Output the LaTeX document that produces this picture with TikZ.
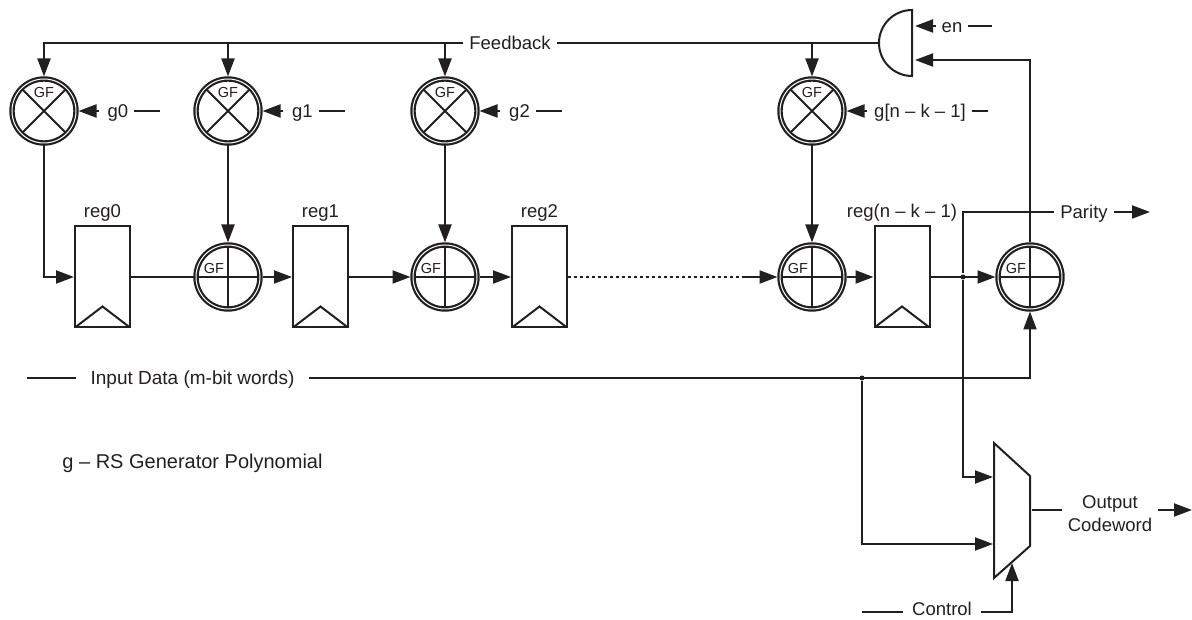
\documentclass[tikz,border=0pt]{standalone}
\usepackage{fontspec}
\setmainfont{Liberation Sans}
\usetikzlibrary{arrows.meta,positioning,calc}
\definecolor{inkblack}{HTML}{231F20}
\tikzset{
    gfmul/.style = {circle, draw, double, double distance=1pt, line width=2.2pt, minimum size=64pt, outer sep=2.5pt,
        path picture={\draw[line width=2pt] (path picture bounding box.north west) -- (path picture bounding box.south east)
            (path picture bounding box.north east) -- (path picture bounding box.south west);}},
    gfadd/.style = {circle, draw, double, double distance=1pt, line width=2.2pt, minimum size=64pt, outer sep=2.5pt,
        path picture={\draw[line width=2pt] (path picture bounding box.north) -- (path picture bounding box.south)
            (path picture bounding box.east) -- (path picture bounding box.west);}},
    regbox/.style = {draw, rectangle, minimum width=55pt, minimum height=101pt,
        path picture={\draw (path picture bounding box.south west) -- ++(27.5pt,21pt) -- (path picture bounding box.south east);}},
    gftext/.style = {inner sep=0pt, font=\fontsize{14.5}{17}\selectfont},
    txt/.style = {inner sep=5pt, align=center, text height=14pt, text depth=0pt, font=\fontsize{18.5}{23}\selectfont},
    junction/.style = {circle, fill, inner sep=0pt, minimum size=5pt},
}

\begin{document}
\begin{tikzpicture}[x=1pt, y=1pt, on grid, line width=2pt, color=inkblack, >={Triangle[length=18pt,width=13pt]}]
    \useasboundingbox (0,0) rectangle (1192,619);

    % Multipliers
    \node[gfmul] (mul0) at (44,508) {};
    \node[gfmul, right=184pt of mul0] (mul1) {};
    \node[gfmul, right=217pt of mul1] (mul2) {};
    \node[gfmul, right=367pt of mul2] (mul3) {};
    \node[gftext, above=18pt of mul0] (gfm0) {GF};
    \node[gftext, above=18pt of mul1] (gfm1) {GF};
    \node[gftext, above=18pt of mul2] (gfm2) {GF};
    \node[gftext, above=18pt of mul3] (gfm3) {GF};

    % Adders
    \node[gfadd, below=166pt of mul1] (add1) {};
    \node[gfadd, below=166pt of mul2] (add2) {};
    \node[gfadd, below=166pt of mul3] (add3) {};
    \node[gfadd, right=218pt of add3] (add4) {};
    \node[gftext, above left=8.5pt and 14pt of add1] (gfa1) {GF};
    \node[gftext, above left=8.5pt and 14pt of add2] (gfa2) {GF};
    \node[gftext, above left=8.5pt and 14pt of add3] (gfa3) {GF};
    \node[gftext, above left=8.5pt and 14pt of add4] (gfa4) {GF};

    % Registers
    \node[regbox, left=125.5pt of add1] (reg0) {};
    \node[regbox, right=92.5pt of add1] (reg1) {};
    \node[regbox, right=94.5pt of add2] (reg2) {};
    \node[regbox, right=90pt of add3] (reg3) {};
    \node[txt, above=66.5pt of reg0] (regtext0) {reg0};
    \node[txt, above=66.5pt of reg1] (regtext1) {reg1};
    \node[txt, above=66.5pt of reg2] (regtext2) {reg2};
    \node[txt, above=66.5pt of reg3] (regtext3) {reg(n -- k -- 1)};

    % Coefficients
    \node[txt, right=74pt of mul0] (g0) {g0};
    \node[txt, right=74.5pt of mul1] (g1) {g1};
    \node[txt, right=74.5pt of mul2] (g2) {g2};
    \node[txt, right=108pt of mul3] (g3) {g[n -- k -- 1]};
    \coordinate[right=42pt of g0] (g0end);
    \coordinate[right=42pt of g1] (g1end);
    \coordinate[right=42pt of g2] (g2end);
    \coordinate[right=68pt of g3] (g3end);

    % Gate and feedback
    \coordinate (gate) at (912,576);
    \draw (912,609) arc[start angle=90, end angle=270, radius=33] -- cycle;
    \coordinate (gateout) at (879,576);
    \coordinate (gatein) at (915,559);
    \node[txt] (en) at (952,593) {en};
    \coordinate[right=40pt of en] (enend);
    \coordinate[left=37pt of en] (enin);
    \node[txt] (fb) at (510,576) {Feedback};

    % Input, output and mux
    \node[txt, inner xsep=14pt, font=\fontsize{19}{23}\selectfont] (input) at (192.5,241) {Input Data (m-bit words)};
    \coordinate (inputstart) at (27,241);
    \node[junction] (tap) at (862,241) {};
    \node[junction, right=61pt of reg3] (ptap) {};
    \node[txt] (parity) at (1084,407) {Parity};
    \coordinate (parityend) at (1150,407);
    \draw (994,176) -- (1030,143) -- (1030,73) -- (994,41) -- cycle;
    \coordinate (muxa) at (993,142);
    \coordinate (muxb) at (993,75);
    \coordinate (muxc) at (1012,56);
    \coordinate (muxout) at (1032,109);
    \node[txt] (output) at (1110,95) {Output\\Codeword};
    \coordinate (outend) at (1192,109);
    \node[txt, inner xsep=8.5pt, inner ysep=1pt, text height=8pt] (ctrl) at (942,7.5) {Control};
    \coordinate (ctrlstart) at (862,7.5);
    \node[txt, font=\fontsize{20}{23}\selectfont] (poly) at (192.5,157) {g -- RS Generator Polynomial};

    % Connections
    \draw (gateout) -- (fb.east);
    \draw[->] (fb.west) -| (mul0);
    \draw[->] (mul1 |- fb) -- (mul1);
    \draw[->] (mul2 |- fb) -- (mul2);
    \draw[->] (mul3 |- gateout) -- (mul3);

    \draw (g0end) -- (g0);
    \draw (g1end) -- (g1);
    \draw (g2end) -- (g2);
    \draw (g3end) -- (g3);
    \draw[->, shorten <=3pt] (g0) -- (mul0);
    \draw[->, shorten <=3pt] (g1) -- (mul1);
    \draw[->, shorten <=3pt] (g2) -- (mul2);
    \draw[->, shorten <=1pt] (g3) -- (mul3);

    \draw[->] (mul0) |- (reg0);
    \draw[->] (mul1) -- (add1);
    \draw[->] (mul2) -- (add2);
    \draw[->] (mul3) -- (add3);

    \draw (reg0) -- (add1);
    \draw[->] (add1) -- (reg1);
    \draw[->] (reg1) -- (add2);
    \draw[->] (add2) -- (reg2);
    \coordinate[left=68pt of add3] (dotend);
    \draw[dash pattern=on 3pt off 3pt] (reg2) -- (dotend);
    \draw[->] (dotend) -- (add3);
    \draw[->] (add3) -- (reg3);
    \draw[->] (reg3) -- (add4);

    \draw (enend) -- (en);
    \draw[->] (en) -- (enin -| gatein);
    \draw[->] (add4) |- (gatein);

    \draw (inputstart) -- (input);
    \draw[->] (input) -| (add4);
    \draw[->] (tap) |- (muxb);
    \draw[->] (parity) -| (ptap) |- (muxa);
    \draw[->] (parity) -- (parityend);
    \draw (muxout) -- (muxout -| output.west);
    \draw[->] (muxout -| output.east) -- (outend);
    \draw (ctrlstart) -- (ctrl);
    \draw[->] (ctrl) -| (muxc);
\end{tikzpicture}
\end{document}
